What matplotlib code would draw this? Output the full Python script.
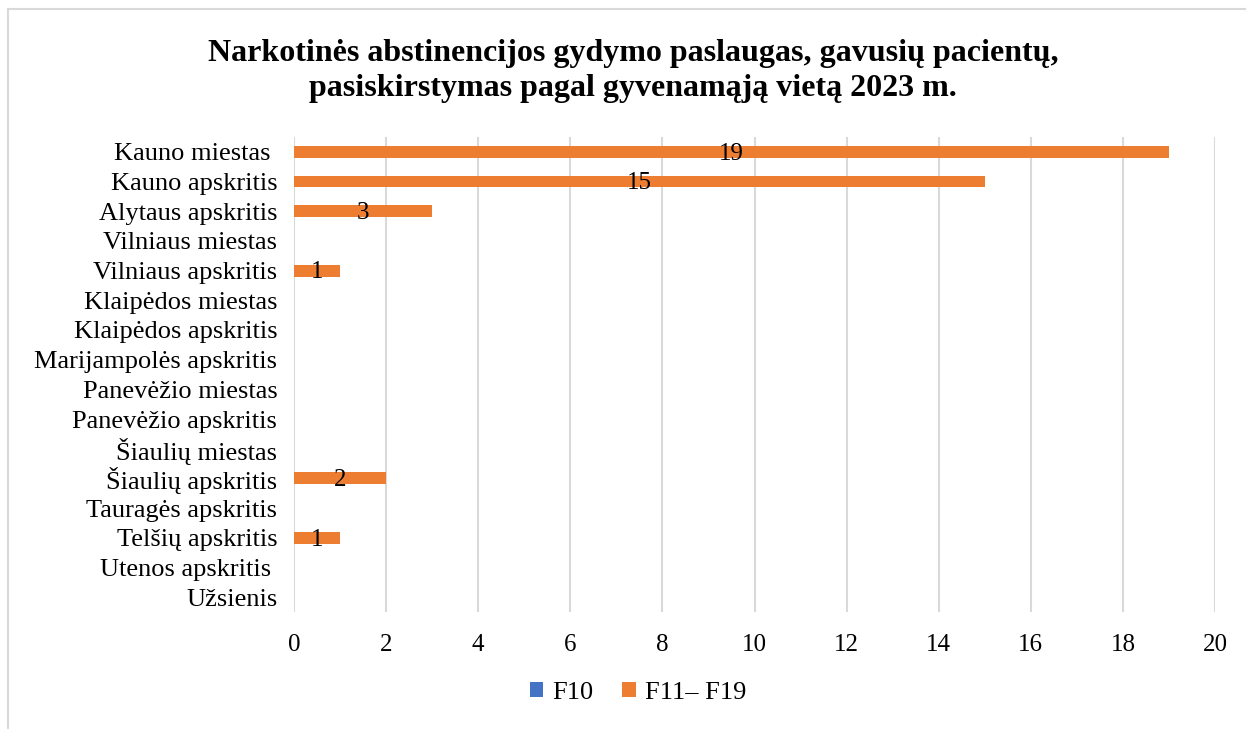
import matplotlib.pyplot as plt
import numpy as np
from matplotlib.patches import Rectangle

plt.rcParams["font.family"] = ["Liberation Serif", "DejaVu Serif"]

categories = [
    "Kauno miestas ", "Kauno apskritis", "Alytaus apskritis", "Vilniaus miestas",
    "Vilniaus apskritis", "Klaipėdos miestas", "Klaipėdos apskritis",
    "Marijampolės apskritis", "Panevėžio miestas", "Panevėžio apskritis",
    "Šiaulių miestas", "Šiaulių apskritis", "Tauragės apskritis",
    "Telšių apskritis", "Utenos apskritis ", "Užsienis",
]
f10 = [0] * 16
f11_f19 = [19, 15, 3, 0, 1, 0, 0, 0, 0, 0, 0, 2, 0, 1, 0, 0]

fig = plt.figure(figsize=(12.46, 7.29), dpi=100)
fig.patches.append(Rectangle((8 / 1246, -0.05), 1.05, 1 - 9 / 729 + 0.05,
                             transform=fig.transFigure, fill=False,
                             edgecolor="#d9d9d9", linewidth=1.5))
ax = fig.add_axes([294 / 1246, 1 - 612 / 729, (1215 - 294) / 1246, (612 - 137) / 729])

y = np.arange(len(categories))
ax.barh(y - 0.2, f10, height=0.4, color="#4472C4", label="F10")
bars = ax.barh(y, f11_f19, height=0.4, color="#ED7D31", label="F11– F19")
for b, v in zip(bars, f11_f19):
    if v > 0:
        ax.text(v / 2, b.get_y() + b.get_height() / 2 + 0.06, str(v),
                ha="center", va="center", fontsize=18)

ax.set_ylim(len(categories) - 0.5, -0.5)
ax.set_xlim(0, 20)
ax.set_xticks(range(0, 21, 2))
ax.set_yticks(y)
ax.set_yticklabels(categories)
ax.tick_params(axis="both", length=0)
ax.tick_params(axis="y", pad=12, labelsize=19)
ax.tick_params(axis="x", pad=16, labelsize=18)
ax.xaxis.grid(True, color="#d9d9d9", linewidth=1.5)
ax.set_axisbelow(True)
for s in ax.spines.values():
    s.set_visible(False)

fig.text(633 / 1246, 1 - 71 / 729,
         "Narkotinės abstinencijos gydymo paslaugas, gavusių pacientų,\n"
         "pasiskirstymas pagal gyvenamąją vietą 2023 m.",
         ha="center", va="center", fontsize=23, fontweight="bold", linespacing=1.25)

fig.legend(loc="center", bbox_to_anchor=(638 / 1246, 1 - 693 / 729), ncol=2,
           frameon=False, fontsize=19, handlelength=0.5, handleheight=0.5,
           handletextpad=0.35, columnspacing=1.1)

fig.savefig("out.png", dpi=100)
